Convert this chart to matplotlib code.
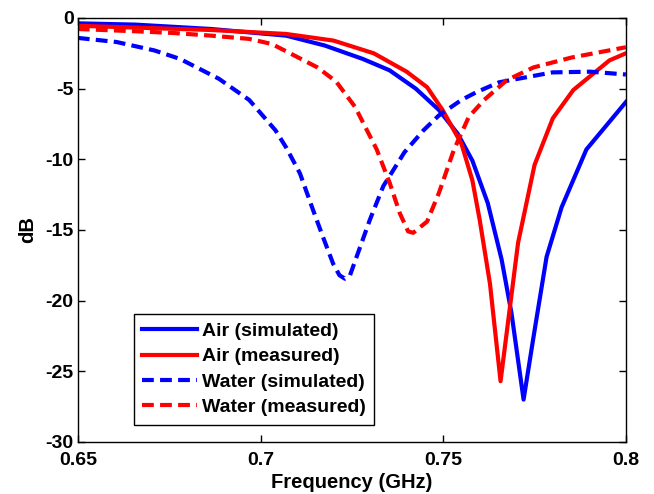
import matplotlib
matplotlib.use("Agg")
import matplotlib.pyplot as plt

plt.rcParams['font.family'] = ['Liberation Sans', 'DejaVu Sans']
plt.rcParams['font.weight'] = 'bold'
plt.rcParams['lines.scale_dashes'] = False
plt.rcParams['axes.unicode_minus'] = False

# Air (simulated)
air_sim_f = [0.65, 0.6658, 0.6865, 0.707, 0.7176, 0.728, 0.7353, 0.7425, 0.7488, 0.754, 0.758,
             0.7622, 0.766, 0.7687, 0.772, 0.7747, 0.7783, 0.7824, 0.7892, 0.795, 0.8]
air_sim_db = [-0.38, -0.47, -0.78, -1.25, -1.95, -2.9, -3.7, -5.0, -6.5, -8.2, -10.1,
              -13.1, -17.1, -20.9, -27.0, -22.6, -16.9, -13.4, -9.3, -7.5, -5.95]

# Air (measured)
air_meas_f = [0.65, 0.6865, 0.707, 0.72, 0.731, 0.74, 0.7456, 0.7498, 0.755, 0.758, 0.760,
              0.7628, 0.7657, 0.7705, 0.775, 0.780, 0.7856, 0.7955, 0.8]
air_meas_db = [-0.55, -0.85, -1.13, -1.6, -2.5, -3.8, -4.9, -6.5, -8.9, -11.5, -14.3,
               -18.8, -25.7, -15.9, -10.4, -7.1, -5.1, -3.0, -2.5]

# Water (simulated)
water_sim_f = [0.65, 0.6606, 0.671, 0.678, 0.6886, 0.6969, 0.7041, 0.7071, 0.7108, 0.7144,
               0.7171, 0.7199, 0.7216, 0.7231, 0.7245, 0.7263, 0.7299, 0.7336, 0.7394, 0.7446,
               0.7488, 0.755, 0.7591, 0.7653, 0.7726, 0.7799, 0.7903, 0.8]
water_sim_db = [-1.41, -1.7, -2.3, -2.9, -4.3, -5.8, -7.95, -9.2, -11.0, -13.6,
                -15.5, -17.4, -18.2, -18.45, -18.2, -16.9, -14.3, -11.9, -9.5, -7.95,
                -6.9, -5.8, -5.25, -4.55, -4.2, -3.85, -3.8, -4.0]

# Water (measured)
water_meas_f = [0.65, 0.6658, 0.676, 0.6865, 0.6969, 0.7031, 0.7093, 0.7156, 0.7207, 0.7259,
                0.7318, 0.7354, 0.7381, 0.7404, 0.7418, 0.7456, 0.7488, 0.7529, 0.757, 0.7612,
                0.7674, 0.7747, 0.7851, 0.8]
water_meas_db = [-0.78, -0.94, -1.06, -1.25, -1.48, -1.84, -2.66, -3.5, -4.5, -6.3,
                 -9.3, -11.7, -13.8, -15.1, -15.2, -14.4, -12.4, -9.35, -7.0, -5.8,
                 -4.4, -3.5, -2.8, -2.07]

xticks = [0.65, 0.7, 0.75, 0.8]
xtick_labels = ['0.65', '0.7', '0.75', '0.8']
yticks = [-30, -25, -20, -15, -10, -5, 0]

fig = plt.figure(figsize=(6.54, 4.94), dpi=100)
ax = fig.add_axes([0.119, 0.1053, 0.838, 0.8583])

lw = 3.0
dash = (8.5, 4.5)
ax.plot(air_sim_f, air_sim_db, color='#0000ff', lw=lw, label='Air (simulated)')
ax.plot(air_meas_f, air_meas_db, color='#ff0000', lw=lw, label='Air (measured)')
ax.plot(water_sim_f, water_sim_db, color='#0000ff', lw=lw, dashes=dash, label='Water (simulated)')
ax.plot(water_meas_f, water_meas_db, color='#ff0000', lw=lw, dashes=dash, label='Water (measured)')

ax.set_xlim(0.65, 0.8)
ax.set_ylim(-30, 0)
ax.set_xticks(xticks)
ax.set_xticklabels(xtick_labels)
ax.set_yticks(yticks)
ax.tick_params(direction='in', top=True, right=True, labelsize=14, length=5, width=1)
ax.tick_params(axis='x', pad=7)
ax.tick_params(axis='y', pad=3)
for lab in ax.get_xticklabels() + ax.get_yticklabels():
    lab.set_fontweight('bold')
for s in ax.spines.values():
    s.set_linewidth(1)

ax.set_xlabel('Frequency (GHz)', fontsize=14.5, fontweight='bold', labelpad=3)
ax.set_ylabel('dB', fontsize=14.5, fontweight='bold', labelpad=6)

leg = ax.legend(loc='lower left', bbox_to_anchor=(0.102, 0.04), borderaxespad=0,
                fancybox=False, edgecolor='black', framealpha=1,
                prop={'weight': 'bold', 'size': 14}, handlelength=2.8,
                handletextpad=0.25, labelspacing=0.4, borderpad=0.45)
leg.get_frame().set_linewidth(1)

fig.savefig('out.png', dpi=100)
